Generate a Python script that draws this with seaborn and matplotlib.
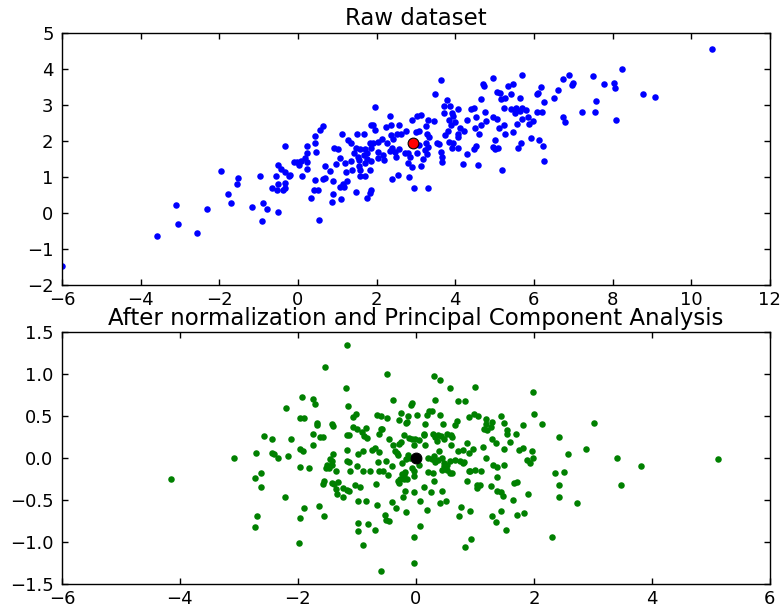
import matplotlib
matplotlib.use("Agg")
import matplotlib.pyplot as plt
import seaborn as sns
import pandas as pd
import numpy as np

# ---------------- data ----------------
raw_points = [
    (-0.34, 1.86), (-1.95, 1.17), (-1.53, 0.98), (-1.55, 0.81), (-0.97, 1.02), (-0.57, 1.02),
    (-0.50, 1.33), (-0.43, 1.24), (-0.33, 1.13), (-0.23, 1.03), (-0.51, 0.82), (-0.34, 0.85),
    (-0.66, 0.71), (-0.54, 0.63), (-0.38, 0.63), (-0.32, 0.69), (-1.78, 0.52), (-1.69, 0.28),
    (-3.10, 0.23), (-2.31, 0.12), (-1.17, 0.18), (-0.90, 0.27), (-0.78, 0.12), (-0.51, 0.04),
    (-0.92, -0.21), (-3.06, -0.31), (-3.59, -0.64), (-2.57, -0.56), (-6.00, -1.46),
    (3.49, 3.31), (1.97, 2.96), (2.35, 2.69), (3.04, 2.71), (3.14, 2.74), (2.90, 2.60),
    (3.32, 2.60), (3.46, 2.57), (0.65, 2.41), (0.57, 2.32), (1.85, 2.45), (1.92, 2.45),
    (2.23, 2.38), (2.36, 2.45), (2.57, 2.45), (1.95, 2.30), (1.11, 2.21), (0.43, 2.13),
    (1.49, 2.19), (1.67, 2.20), (2.37, 2.18), (2.51, 2.21), (2.62, 2.19), (2.76, 2.27),
    (2.99, 2.26), (3.09, 2.27), (3.25, 2.42), (3.28, 2.21), (3.34, 2.12), (3.53, 1.95),
    (3.58, 1.92), (2.14, 2.05), (2.27, 1.96), (2.42, 2.05), (1.27, 2.03), (1.34, 1.94),
    (1.82, 1.95), (1.91, 1.94), (0.44, 1.94), (0.22, 1.86), (2.03, 1.98), (3.25, 1.94),
    (3.32, 1.84), (3.09, 1.88), (3.23, 1.75), (0.91, 1.82), (1.01, 1.77), (1.47, 1.80),
    (1.58, 1.77), (1.70, 1.79), (1.85, 1.82), (2.34, 1.72), (2.47, 1.69), (2.58, 1.79),
    (2.39, 1.81), (2.71, 1.68), (2.81, 1.67), (2.85, 1.57), (3.04, 1.66), (3.27, 1.63),
    (3.19, 1.50), (0.47, 1.69), (0.22, 1.66), (0.17, 1.52), (1.42, 1.66), (1.54, 1.56),
    (1.68, 1.61), (1.75, 1.66), (2.04, 1.70), (2.17, 1.61), (2.03, 1.52), (2.19, 1.47),
    (-0.03, 1.43), (0.09, 1.44), (0.22, 1.42), (-0.09, 1.41), (0.03, 1.35), (1.06, 1.52),
    (1.20, 1.40), (1.35, 1.44), (0.98, 1.36), (1.56, 1.47), (1.76, 1.50), (1.87, 1.45),
    (1.70, 1.38), (1.56, 1.31), (2.50, 1.56), (2.80, 1.39), (2.89, 1.27), (3.12, 1.32),
    (0.24, 1.24), (0.10, 1.04), (0.69, 1.30), (0.82, 1.17), (0.44, 0.92), (0.63, 0.94),
    (0.70, 0.99), (0.90, 0.90), (1.22, 1.15), (1.38, 1.19), (1.59, 1.21), (1.84, 1.21),
    (1.24, 0.90), (1.58, 1.04), (1.70, 1.04), (2.39, 0.94), (2.55, 1.05), (2.82, 1.01),
    (1.87, 0.64), (1.07, 0.73), (1.17, 0.73), (1.47, 0.58), (0.50, 0.64), (0.42, 0.64),
    (0.88, 0.53), (1.09, 0.38), (0.34, 0.43), (1.75, 0.41), (1.82, 0.55), (2.94, 0.69),
    (3.30, 0.69), (-0.20, 1.07), (1.15, 0.82), (0.86, 0.30), (0.53, -0.20),
    (5.69, 3.83), (4.96, 3.74), (3.65, 3.71), (4.70, 3.58), (4.72, 3.53), (5.34, 3.54),
    (5.48, 3.59), (6.74, 3.73), (6.89, 3.84), (6.96, 3.55), (7.00, 3.61), (6.17, 3.51),
    (5.06, 3.36), (5.14, 3.34), (5.43, 3.31), (6.08, 3.30), (6.10, 3.34), (5.17, 3.16),
    (5.26, 3.21), (5.64, 3.21), (4.66, 3.16), (6.51, 3.19), (6.61, 3.41), (6.26, 3.09),
    (3.79, 3.14), (3.71, 2.98), (3.87, 2.99), (4.06, 2.90), (4.40, 2.90), (4.47, 2.91),
    (5.24, 2.92), (5.42, 2.90), (5.54, 2.92), (5.70, 2.92), (5.64, 2.84), (5.52, 2.77),
    (5.80, 2.87), (4.75, 2.80), (3.72, 2.77), (3.91, 2.77), (3.94, 2.70), (3.84, 2.60),
    (3.99, 2.53), (4.95, 2.68), (5.07, 2.61), (4.53, 2.66), (4.29, 2.59), (4.77, 2.55),
    (4.65, 2.45), (5.86, 2.68), (5.97, 2.56), (5.87, 2.47), (5.69, 2.62), (5.56, 2.49),
    (6.07, 2.80), (6.20, 2.80), (6.75, 2.68), (6.80, 2.54), (3.89, 2.44), (3.81, 2.29),
    (3.73, 2.16), (4.11, 2.36), (4.07, 2.20), (4.08, 2.11), (4.22, 2.27), (4.50, 2.37),
    (4.60, 2.20), (5.12, 2.36), (5.25, 2.44), (5.27, 2.19), (5.47, 2.26), (5.92, 2.09),
    (6.14, 2.03), (6.23, 1.86), (5.01, 2.03), (4.97, 1.84), (5.09, 1.81), (5.00, 1.77),
    (5.60, 1.82), (5.67, 1.96), (4.54, 1.87), (4.48, 1.79), (3.83, 1.98), (3.94, 1.94),
    (3.92, 1.81), (4.08, 1.81), (3.65, 1.70), (3.67, 1.57), (3.66, 1.43), (4.30, 1.63),
    (4.19, 1.36), (4.59, 1.33), (6.25, 1.46), (5.18, 1.19),
    (10.54, 4.56), (8.24, 4.00), (7.49, 3.80), (7.78, 3.59), (8.03, 3.62), (8.05, 3.47),
    (8.78, 3.30), (9.09, 3.23), (7.57, 3.12), (7.22, 2.82), (7.55, 2.80), (8.10, 2.59),
]
raw_mean = (2.92, 1.95)

pca_points = [
    (-1.54, 1.08), (-1.93, 0.73), (-1.75, 0.70), (-1.71, 0.64), (-2.21, 0.60), (-1.97, 0.48),
    (-1.89, 0.47), (-1.68, 0.42), (-1.68, 0.39), (-1.75, 0.28), (-1.62, 0.25), (-1.57, 0.25),
    (-2.57, 0.26), (-2.44, 0.23), (-2.11, 0.22), (-1.74, 0.15), (-1.96, 0.11), (-1.92, 0.08),
    (-2.71, 0.06), (-2.44, 0.06), (-2.40, 0.05), (-2.34, 0.00), (-2.17, 0.02), (-3.08, 0.00),
    (-1.97, -0.11), (-1.82, -0.12), (-2.63, -0.18), (-2.72, -0.24), (-4.15, -0.25), (-2.63, -0.34),
    (-1.55, -0.28), (-1.58, -0.31), (-2.22, -0.47), (-1.89, -0.60), (-1.65, -0.57), (-1.55, -0.69),
    (-1.97, -0.71), (-2.70, -0.69), (-2.73, -0.82), (-1.98, -1.01),
    (-1.17, 1.35), (-0.49, 1.00), (-1.19, 0.83), (-1.15, 0.62), (0.31, 0.97), (0.40, 0.93),
    (-0.38, 0.69), (-0.06, 0.65), (-0.08, 0.63), (0.32, 0.69), (-1.06, 0.49), (-1.01, 0.52),
    (-0.66, 0.51), (-0.59, 0.50), (-0.49, 0.48), (-0.25, 0.54), (-0.28, 0.45), (-0.13, 0.50),
    (-0.15, 0.43), (-0.17, 0.42), (0.02, 0.51), (0.18, 0.51), (0.23, 0.56), (0.27, 0.56),
    (0.40, 0.51), (0.46, 0.41), (-1.43, 0.40), (-1.41, 0.38), (-1.06, 0.37), (-1.00, 0.35),
    (-0.85, 0.36), (-0.91, 0.31), (-0.88, 0.26), (-0.83, 0.24), (-0.60, 0.35), (-0.57, 0.35),
    (-0.63, 0.29), (0.15, 0.41), (-1.16, 0.27), (-1.14, 0.27), (-0.45, 0.23), (-0.39, 0.15),
    (-0.29, 0.17), (-0.25, 0.19), (-0.20, 0.27), (-0.11, 0.24), (-0.06, 0.23), (-0.02, 0.23),
    (-0.04, 0.15), (0.06, 0.21), (0.15, 0.15), (0.13, 0.29), (0.14, 0.27), (0.29, 0.28),
    (0.32, 0.25), (0.35, 0.20), (0.38, 0.27), (0.42, 0.26), (0.47, 0.23), (0.39, 0.08),
    (-1.16, 0.09), (-1.17, -0.04), (-1.41, 0.05), (-0.99, 0.05), (-0.89, 0.08), (-0.75, 0.10),
    (-0.69, 0.12), (-0.63, 0.07), (-0.32, 0.06), (-0.30, 0.04), (-0.24, -0.06), (-0.17, -0.01),
    (-0.14, 0.03), (-0.10, 0.00), (0.21, 0.00), (0.28, -0.01), (0.30, 0.02), (0.33, -0.05),
    (0.37, -0.02), (0.44, 0.00), (0.47, -0.06), (-1.46, -0.01), (-1.43, -0.04), (-1.50, -0.08),
    (-1.42, -0.08), (-1.47, -0.12), (-1.53, -0.12), (-1.35, -0.16), (-1.14, -0.05), (-1.11, -0.15),
    (-1.00, -0.09), (-0.89, -0.15), (-0.77, -0.15), (-0.64, -0.05), (-0.63, -0.15), (-0.55, -0.15),
    (-0.50, -0.04), (-0.47, -0.20), (-0.40, -0.09), (-0.36, 0.08), (-0.19, -0.17), (-0.21, -0.20),
    (-0.23, -0.19), (-0.15, -0.25), (-0.20, -0.25), (-0.30, -0.28), (-0.27, -0.25), (-0.29, -0.30),
    (-0.04, -0.16), (-0.03, -0.22), (-0.06, -0.12), (0.06, -0.08), (0.21, -0.17), (0.29, -0.18),
    (0.30, -0.27), (0.14, -0.35), (-0.03, -0.41), (0.45, -0.14), (0.48, -0.10), (-1.43, -0.30),
    (-1.39, -0.31), (-1.32, -0.29), (-1.35, -0.37), (-1.34, -0.43), (-1.24, -0.36), (-1.23, -0.47),
    (-1.16, -0.38), (-1.14, -0.39), (-1.03, -0.32), (-0.94, -0.34), (-0.68, -0.31), (-0.22, -0.46),
    (-0.19, -0.39), (0.07, -0.51), (0.25, -0.41), (0.45, -0.39), (-0.98, -0.51), (-0.85, -0.51),
    (-0.41, -0.53), (-0.33, -0.59), (-0.66, -0.56), (-0.16, -0.64), (0.19, -0.62), (0.41, -0.54),
    (-0.53, -0.68), (-0.51, -0.74), (-0.46, -0.75), (-0.98, -0.77), (-0.99, -0.87), (-0.81, -0.79),
    (-0.69, -0.86), (0.07, -0.81), (-0.03, -0.94), (-0.89, -1.03), (-0.04, -1.25), (-0.59, -1.34),
    (0.58, 0.83), (1.00, 0.84), (0.72, 0.68), (0.84, 0.68), (1.99, 0.79), (0.99, 0.52),
    (1.06, 0.50), (0.90, 0.49), (1.18, 0.46), (1.18, 0.41), (1.29, 0.43), (1.28, 0.37),
    (1.16, 0.35), (1.21, 0.33), (1.44, 0.50), (1.50, 0.42), (1.54, 0.33), (1.55, 0.29),
    (1.82, 0.39), (2.01, 0.52), (2.14, 0.40), (0.69, 0.44), (0.67, 0.39), (0.53, 0.28),
    (0.59, 0.27), (0.61, 0.25), (0.60, 0.15), (1.70, 0.28), (1.59, 0.19), (1.29, 0.22),
    (1.35, 0.18), (0.86, 0.18), (1.13, 0.13), (1.49, 0.11), (1.75, 0.09), (1.82, 0.12),
    (1.96, 0.08), (0.72, 0.08), (0.80, 0.10), (0.97, 0.11), (0.90, 0.06), (1.19, 0.00),
    (0.66, -0.02), (0.58, -0.04), (0.75, -0.04), (0.81, -0.05), (0.80, -0.06), (0.52, -0.08),
    (0.52, -0.14), (0.57, -0.18), (0.62, -0.18), (1.31, -0.08), (1.38, -0.11), (1.49, -0.08),
    (0.90, -0.15), (0.91, -0.16), (1.01, -0.14), (1.10, -0.15), (1.88, -0.02), (1.94, -0.06),
    (1.98, 0.00), (0.86, -0.27), (1.37, -0.23), (1.04, -0.32), (1.08, -0.32), (1.04, -0.36),
    (1.28, -0.33), (1.66, -0.30), (1.72, -0.29), (1.38, -0.39), (1.44, -0.41), (1.48, -0.45),
    (1.90, -0.43), (1.64, -0.50), (0.51, -0.51), (0.77, -0.58), (0.92, -0.63), (0.73, -0.69),
    (1.29, -0.69), (1.36, -0.76), (1.45, -0.63), (1.72, -0.68), (1.83, -0.66), (1.53, -0.86),
    (0.94, -0.97), (0.83, -1.06), (2.30, -0.94),
    (3.02, 0.42), (2.42, 0.25), (2.88, 0.11), (2.58, 0.05), (3.41, 0.00), (3.81, -0.09),
    (5.12, -0.01), (2.51, -0.17), (2.36, -0.18), (2.43, -0.32), (3.47, -0.32), (2.42, -0.46),
    (2.73, -0.54),
]
pca_mean = (0.0, 0.0)

raw_title = "Raw dataset"
pca_title = "After normalization and Principal Component Analysis"
raw_xticks = [-6, -4, -2, 0, 2, 4, 6, 8, 10, 12]
raw_yticks = [-2, -1, 0, 1, 2, 3, 4, 5]
pca_xticks = [-6, -4, -2, 0, 2, 4, 6]
pca_yticks = [-1.5, -1.0, -0.5, 0.0, 0.5, 1.0, 1.5]

# ---------------- style ----------------
sns.set_style("white")
plt.rcParams.update({
    "font.family": ["DejaVu Sans"],
    "text.color": "black",
    "axes.labelcolor": "black",
    "axes.titlecolor": "black",
    "axes.edgecolor": "black",
    "axes.linewidth": 1.0,
    "xtick.direction": "in",
    "ytick.direction": "in",
    "xtick.top": True,
    "ytick.right": True,
    "xtick.bottom": True,
    "ytick.left": True,
    "xtick.major.size": 4.5,
    "ytick.major.size": 4.5,
    "xtick.major.width": 1.0,
    "ytick.major.width": 1.0,
    "xtick.color": "black",
    "ytick.color": "black",
    "xtick.labelcolor": "black",
    "ytick.labelcolor": "black",
    "xtick.labelsize": 13,
    "ytick.labelsize": 13,
    "xtick.major.pad": 4.5,
    "ytick.major.pad": 6,
    "axes.titlesize": 16.5,
})

raw_df = pd.DataFrame(raw_points, columns=["x", "y"])
pca_df = pd.DataFrame(pca_points, columns=["x", "y"])

fig = plt.figure(figsize=(7.84, 6.08), dpi=100)
ax1 = fig.add_axes([0.079, 0.531, 0.903, 0.4145])
ax2 = fig.add_axes([0.079, 0.0395, 0.903, 0.4145])

sns.scatterplot(data=raw_df, x="x", y="y", ax=ax1, color="#0000ff", s=22,
                linewidth=0, legend=False)
sns.scatterplot(x=[raw_mean[0]], y=[raw_mean[1]], ax=ax1, color="#ff0000", s=60,
                edgecolor="black", linewidth=0.8, legend=False, zorder=5)
ax1.set_xlim(-6, 12)
ax1.set_ylim(-2, 5)
ax1.set_xticks(raw_xticks)
ax1.set_yticks(raw_yticks)
ax1.set_title(raw_title, color="black")

sns.scatterplot(data=pca_df, x="x", y="y", ax=ax2, color="#008000", s=22,
                linewidth=0, legend=False)
sns.scatterplot(x=[pca_mean[0]], y=[pca_mean[1]], ax=ax2, color="black", s=60,
                edgecolor="black", linewidth=0.8, legend=False, zorder=5)
ax2.set_xlim(-6, 6)
ax2.set_ylim(-1.5, 1.5)
ax2.set_xticks(pca_xticks)
ax2.set_yticks(pca_yticks)
ax2.set_title(pca_title, color="black", pad=5)

for ax in (ax1, ax2):
    ax.set_xlabel("")
    ax.set_ylabel("")
    for sp in ax.spines.values():
        sp.set_visible(True)
        sp.set_color("black")

fig.savefig("out.png", dpi=100)
